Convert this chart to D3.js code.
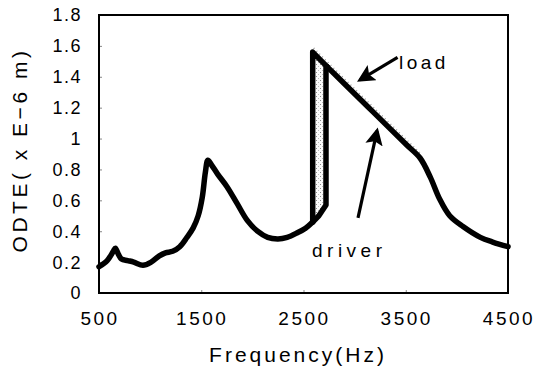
<!DOCTYPE html>
<html>
<head>
<meta charset="utf-8">
<script src="https://cdnjs.cloudflare.com/ajax/libs/d3/7.8.5/d3.min.js"></script>
<style>
	body { margin: 0; background: #ffffff; }
	svg { display: block; font-family: "Liberation Sans", Arial, sans-serif; }
</style>
</head>
<body>
<svg id="chart" width="535" height="378"></svg>
<script>
// Shared rising part of both curves (Hz, ODTE in E-6 m)
var sharedFreq = [500, 580, 640, 660, 690, 720, 780, 840, 930, 1010, 1090, 1150, 1220, 1290, 1360, 1420, 1470, 1510, 1540, 1565, 1600, 1660, 1750, 1850, 1950, 2050, 2150, 2250, 2340, 2440, 2520, 2590];
var sharedValue = [0.17, 0.21, 0.27, 0.29, 0.25, 0.22, 0.21, 0.2, 0.18, 0.2, 0.24, 0.26, 0.27, 0.3, 0.36, 0.42, 0.5, 0.62, 0.78, 0.86, 0.83, 0.77, 0.69, 0.58, 0.47, 0.4, 0.36, 0.35, 0.36, 0.39, 0.42, 0.46];

// Load jumps at 2590 Hz and runs down to where driver joins
var loadJumpFreq = [2590, 2590, 2730];
var loadJumpValue = [0.46, 1.56, 1.466];

// Driver keeps rising and jumps at 2720 Hz
var driverJumpFreq = [2590, 2650, 2720, 2720, 2730];
var driverJumpValue = [0.46, 0.5, 0.57, 1.46, 1.466];

// Falling branch, same for both
var tailFreq = [2730, 2900, 3180, 3510, 3640, 3740, 3830, 3930, 4060, 4230, 4350, 4500];
var tailValue = [1.466, 1.355, 1.173, 0.958, 0.874, 0.75, 0.61, 0.5, 0.43, 0.36, 0.33, 0.3];

var xTicks = [500, 1500, 2500, 3500, 4500];
var yTicks = [0, 0.2, 0.4, 0.6, 0.8, 1, 1.2, 1.4, 1.6, 1.8];

// Annotations in data units
var labelNames = ["load", "driver"];
var labelAt = [[3434, 1.45], [2583, 0.233]];
var arrowFrom = [[3420, 1.525], [3033, 0.486]];
var arrowTo = [[3053, 1.38], [3219, 1.05]];

function zipPoints(f, v) {
	return f.map(function(d, i) { return [d, v[i]]; });
}

var shared = zipPoints(sharedFreq, sharedValue);
var loadJump = zipPoints(loadJumpFreq, loadJumpValue);
var driverJump = zipPoints(driverJumpFreq, driverJumpValue);
var tail = zipPoints(tailFreq, tailValue);

var plotLeft = 99, plotRight = 508, plotTop = 15, plotBottom = 293;

var svg = d3.select("#chart");

var x = d3.scaleLinear().domain([500, 4500]).range([plotLeft, plotRight]);
var y = d3.scaleLinear().domain([0, 1.8]).range([plotBottom, plotTop]);

// stipple pattern for the band between the curves
var defs = svg.append("defs");
var pat = defs.append("pattern")
	.attr("id", "stipple")
	.attr("width", 4)
	.attr("height", 4)
	.attr("patternUnits", "userSpaceOnUse");
pat.append("rect").attr("width", 4).attr("height", 4).attr("fill", "#fafafa");
pat.append("rect").attr("x", 0).attr("y", 0).attr("width", 1).attr("height", 1).attr("fill", "#888");
pat.append("rect").attr("x", 2).attr("y", 2).attr("width", 1).attr("height", 1).attr("fill", "#bbb");

var line = d3.line()
	.x(function(d) { return x(d[0]); })
	.y(function(d) { return y(d[1]); });

var smooth = d3.line()
	.curve(d3.curveCatmullRom.alpha(0.5))
	.x(function(d) { return x(d[0]); })
	.y(function(d) { return y(d[1]); });

// band between the two jumps
svg.append("path")
	.attr("d", line(loadJump.concat(driverJump.slice().reverse())) + "Z")
	.attr("fill", "url(#stipple)");

// grey halo along upper edge of the falling branch (scan shading)
svg.append("path")
	.attr("d", line(loadJump.slice(1).concat(tail.filter(function(d) { return d[0] <= 3640; }))))
	.attr("transform", "translate(1,-4)")
	.attr("fill", "none")
	.attr("stroke", "#999")
	.attr("stroke-width", 1.5)
	.attr("stroke-dasharray", "1,3");

// axes ticks (small, inward)
svg.append("g")
	.attr("transform", "translate(" + plotLeft + ",0)")
	.call(d3.axisRight(y).tickValues(yTicks).tickSize(3).tickFormat(""))
	.call(function(g) { g.select(".domain").remove(); })
	.selectAll("line").attr("stroke", "#888");

svg.append("g")
	.attr("transform", "translate(0," + plotBottom + ")")
	.call(d3.axisTop(x).tickValues([1500, 2500, 3500]).tickSize(3).tickFormat(""))
	.call(function(g) { g.select(".domain").remove(); })
	.selectAll("line").attr("stroke", "#888");

// curves: smooth parts, straight jumps
function stroke(d) {
	svg.append("path")
		.attr("d", d)
		.attr("fill", "none")
		.attr("stroke", "#000")
		.attr("stroke-width", 5.5)
		.attr("stroke-linejoin", "round")
		.attr("stroke-linecap", "round");
}
stroke(smooth(shared));
stroke(line(loadJump));
stroke(line(driverJump));
stroke(smooth(tail));

// frame
svg.append("rect")
	.attr("x", plotLeft)
	.attr("y", plotTop)
	.attr("width", plotRight - plotLeft)
	.attr("height", plotBottom - plotTop)
	.attr("fill", "none")
	.attr("stroke", "#000")
	.attr("stroke-width", 2);

// tick labels
svg.append("g").selectAll("text")
	.data(yTicks)
	.join("text")
	.attr("x", 82)
	.attr("y", function(d) { return y(d); })
	.attr("dy", "0.36em")
	.attr("text-anchor", "end")
	.attr("font-size", "18px")
	.attr("letter-spacing", "1.5px")
	.text(function(d) { return d; });

svg.append("g").selectAll("text")
	.data(xTicks)
	.join("text")
	.attr("x", function(d) { return x(d) + 1; })
	.attr("y", 325)
	.attr("text-anchor", "middle")
	.attr("font-size", "19px")
	.attr("letter-spacing", "2.5px")
	.text(function(d) { return d; });

// axis titles
svg.append("text")
	.attr("x", 298)
	.attr("y", 362)
	.attr("text-anchor", "middle")
	.attr("font-size", "21px")
	.attr("letter-spacing", "3px")
	.text("Frequency(Hz)");

svg.append("text")
	.attr("transform", "translate(27,150) rotate(-90)")
	.attr("text-anchor", "middle")
	.attr("font-size", "21px")
	.attr("letter-spacing", "3.5px")
	.text("ODTE( x E\u22126 m)");

// annotations
var marker = defs.append("marker")
	.attr("id", "head")
	.attr("viewBox", "0 0 10 10")
	.attr("refX", 8)
	.attr("refY", 5)
	.attr("markerWidth", 5.5)
	.attr("markerHeight", 5.5)
	.attr("orient", "auto");
marker.append("path").attr("d", "M0,0L10,5L0,10L2,5Z").attr("fill", "#000");

labelNames.forEach(function(name, i) {
	svg.append("text")
		.attr("x", x(labelAt[i][0]))
		.attr("y", y(labelAt[i][1]))
		.attr("font-size", "19px")
		.attr("letter-spacing", name == "load" ? "3.5px" : "4.5px")
		.text(name);

	svg.append("line")
		.attr("x1", x(arrowFrom[i][0]))
		.attr("y1", y(arrowFrom[i][1]))
		.attr("x2", x(arrowTo[i][0]))
		.attr("y2", y(arrowTo[i][1]))
		.attr("stroke", "#000")
		.attr("stroke-width", 3.2)
		.attr("marker-end", "url(#head)");
});
</script>
</body>
</html>
